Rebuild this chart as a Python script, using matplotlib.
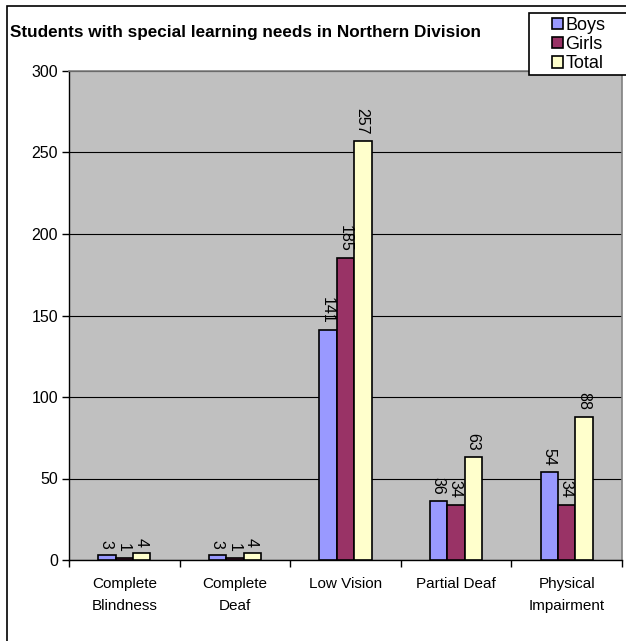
import matplotlib
matplotlib.use("Agg")
import matplotlib.pyplot as plt
from matplotlib.patches import Rectangle
import numpy as np

categories = ["Complete\nBlindness", "Complete\nDeaf", "Low Vision", "Partial Deaf", "Physical\nImpairment"]
boys = [3, 3, 141, 36, 54]
girls = [1, 1, 185, 34, 34]
total = [4, 4, 257, 63, 88]
series_names = ["Boys", "Girls", "Total"]
colors = ["#9999FF", "#993366", "#FFFFCC"]
yticks = [0, 50, 100, 150, 200, 250, 300]

plt.rcParams['font.family'] = ['Liberation Sans', 'DejaVu Sans']

fig = plt.figure(figsize=(6.26, 6.41), dpi=100)
W, H = 626, 641
ax = fig.add_axes([69 / W, 1 - 560 / H, (622 - 69) / W, (560 - 71) / H])
ax.set_facecolor("#C0C0C0")

x = np.arange(len(categories))
w = 0.157
handles = []
for i, (vals, name, col) in enumerate(zip([boys, girls, total], series_names, colors)):
    bars = ax.bar(x + (i - 1) * w, vals, w, color=col, edgecolor="black", linewidth=1.2,
                  label=name, zorder=3)
    handles.append(bars)
    for xi, v in zip(x + (i - 1) * w, vals):
        ax.annotate(str(v), (xi, v), xytext=(-0.5, 4.5), textcoords="offset points",
                    rotation=-90, ha="center", va="bottom", fontsize=11.5, zorder=4)

ax.set_ylim(0, 300)
ax.set_xlim(-0.5, len(categories) - 0.5)
ax.set_yticks(yticks)
ax.set_yticklabels([str(t) for t in yticks], fontsize=11.5)
ax.yaxis.grid(True, color="black", linewidth=0.8, zorder=1)
ax.set_axisbelow(True)

ax.set_xticks(x)
ax.set_xticklabels(categories, fontsize=11, linespacing=1.75)
ax.tick_params(axis="x", length=0, pad=12)
ax.set_xticks(np.arange(len(categories) + 1) - 0.5, minor=True)
ax.tick_params(axis="x", which="minor", length=5, width=1, color="black")
ax.tick_params(axis="y", length=5, width=1, color="black", pad=3)

for s in ["top", "right"]:
    ax.spines[s].set_color("#808080")
    ax.spines[s].set_linewidth(1.2)
for s in ["left", "bottom"]:
    ax.spines[s].set_color("black")
    ax.spines[s].set_linewidth(1.0)

fig.text(10 / W, 1 - 33 / H, "Students with special learning needs in Northern Division",
         fontsize=12.3, fontweight="bold", ha="left", va="center")

# outer chart border
fig.patches.append(Rectangle((7 / W, -0.1), 1.2, (1 - 6 / H) + 0.1, transform=fig.transFigure,
                             fill=False, edgecolor="black", linewidth=1.2))

# legend box
fig.patches.append(Rectangle((529 / W, 1 - 75 / H), 120 / W, 62 / H, transform=fig.transFigure,
                             facecolor="white", edgecolor="black", linewidth=1.2, zorder=5))
leg = fig.legend(handles=handles, labels=series_names, loc="upper left",
                 bbox_to_anchor=(550 / W, 1 - 15 / H), frameon=False, fontsize=13,
                 handlelength=0.6, handleheight=0.6, handletextpad=0.15,
                 labelspacing=0.12, borderpad=0.1, borderaxespad=0)
leg.set_zorder(6)

fig.savefig("out.png", dpi=100, facecolor="white")
